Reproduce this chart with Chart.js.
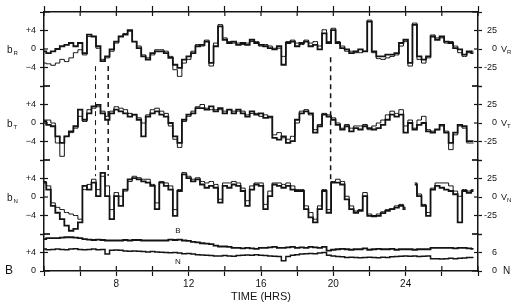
<!DOCTYPE html>
<html><head><meta charset="utf-8">
<script src="https://cdn.jsdelivr.net/npm/chart.js@4"></script>
<style>html,body{margin:0;padding:0;background:#fff}canvas{display:block}</style>
</head><body>
<canvas id="c" width="523" height="307"></canvas>
<script>
// ---- data (time in hours) ----
const times = [4,4.25,4.5,4.75,5,5.25,5.5,5.75,6,6.25,6.5,6.75,7,7.25,7.5,7.75,8,8.25,8.5,8.75,
  9,9.25,9.5,9.75,10,10.25,10.5,10.75,11,11.25,11.5,11.75,12,12.25,12.5,12.75,13,13.25,13.5,13.75,
  14,14.25,14.5,14.75,15,15.25,15.5,15.75,16,16.25,16.5,16.75,17,17.25,17.5,17.75,18,18.25,18.5,18.75,
  19,19.25,19.5,19.75,20,20.25,20.5,20.75,21,21.25,21.5,21.75,22,22.25,22.5,22.75,23,23.25,23.5,23.75,
  24,24.25,24.5,24.75,25,25.25,25.5,25.75,26,26.25,26.5,26.75,27,27.25,27.5,27.75];

// magnetic field components (nT)
const bR = [-0.5,-0.9,-0.5,0,0.6,0.9,1.3,0.6,1.3,-0.9, 3.1,2.7,0.6,-2.6,-1.6,-0.1,1.6,2.7,3.1,4.1,
  1.6,0.2,-1.6,-2.3,-0.9,-0.5,-0.5,-0.9,-1.9,-3.4, -4.1,-2.3,-1.6,-0.9,0.6,0.9,1.6,-3.0,0.6,4.9,
  2.0,1.3,1.6,0.9,1.3,0.9,2.0,1.3,0.9,0.6, 0.2,-0.1,0.6,-3.4,1.3,1.6,0.6,1.3,1.6,0.6,
  0.9,-0.1,3.4,1.3,4.1,1.3,0.2,-0.1,-0.9,-0.5, -0.1,-0.5,5.9,-0.5,-1.6,-1.6,-1.2,-1.2,-0.9,1.3,
  2.0,-3.0,5.2,-1.6,-2.3,-1.6,2.7,2.0,2.7,1.6, 1.3,0.2,-0.1,-1.2,-0.5,-0.9];
const bT = [0.4,-0.4,-0.7,-2.9,-4.3,-2.9,-1.8,-0.7,2.9,0.7, 2.1,3.6,3.9,2.1,0.7,2.1,2.9,2.5,2.1,1.4,
  1.8,0.7,-2.9,1.4,2.1,2.5,1.8,1.4,0,-2.9, -4.3,0.7,1.8,2.1,3.2,3.2,2.9,3.6,2.5,3.2,
  2.1,2.9,2.1,2.9,2.1,1.4,2.5,1.8,2.1,1.1, 1.4,-3.2,-3.6,-2.9,-4.3,-3.9,0.7,2.1,2.5,2.1,
  -2.1,-0.7,1.8,1.4,0.7,-0.4,-1.4,-0.7,-1.8,-1.1, -1.4,-0.7,-1.1,-1.4,-1.1,-0.4,0.7,1.8,1.4,1.8,
  -2.1,0,-1.4,-0.4,0,-1.8,-2.1,-1.4,-0.4,-2.1, -4.3,-2.1,-0.4,-0.7,-3.9,-3.9];
const bN = [3.1,1.6,-1.9,-3.4,-4.8,-6.2,-7.3,-6.9,-5.5,2.4, 1.6,3.1,0.2,5.2,0.2,-4.8,0.2,-1.9,1.6,3.8,
  4.1,3.8,3.4,3.1,2.4,-2.6,3.1,2.4,1.6,-4.1, 1.3,4.9,4.1,3.4,3.8,2.7,2.0,2.4,2.0,-1.2,
  2.4,2.0,2.7,2.4,1.3,-1.9,1.6,2.7,2.4,-2.6, 0.2,2.7,2.4,2.0,2.4,1.6,1.3,1.3,-2.6,-4.4,
  -5.5,-2.6,1.3,-3.4,3.1,3.1,2.7,-0.5,-2.6,-3.4, -3.0,0.2,-4.1,-4.2,-4.1,-3.5,-3.0,-2.6,-2.3,-1.9,
  -2.6,null,2.7,0.2,-1.9,-4.1,1.6,2.4,2.0,1.6, 1.3,0.6,-5.5,1.3,0.9,1.3];
// velocity components (km/s)
const vR = [-19,-20,-22,-19,-14,-17,-12,-5,-1,-8, 17,17,1,-14,-12,-3,8,17,21,24,
  10,4,-8,-12,-8,-1,-1,-3,-10,-28, -37,-19,-14,-3,6,4,12,-23,8,33,
  15,10,8,8,6,8,10,10,4,6, 4,1,1,-10,10,12,8,6,12,8,
  10,4,26,10,28,10,4,-3,-3,-5, -5,-3,39,-5,-13,-14,-12,-10,-8,4,
  10,-23,35,-14,-19,-12,19,15,15,8, 10,4,-5,-10,-5,-3];
const vT = [4,4,0,-27,-45,-18,-13,-7,9,2, 18,20,22,16,9,16,22,20,18,13,
  11,7,0,11,18,20,16,13,-4,-22, -33,2,9,16,22,25,20,18,18,18,
  16,18,16,16,16,11,13,13,9,11, 7,-16,-13,-20,-22,-18,0,16,18,11,
  -9,-2,13,11,7,0,-7,-2,-7,-4, -4,-2,-9,-4,0,4,11,16,13,18,
  -4,4,-7,4,9,-9,-11,-9,-4,-11, -36,-16,-4,-7,-27,-27];
const vN = [21,15,-8,-14,-17,-21,-23,-25,-30,10, 17,24,10,28,15,-17,6,1,8,21,
  28,26,24,24,17,-8,21,19,15,-17, 10,33,28,24,26,21,19,21,17,-3,
  19,19,21,19,12,-5,15,19,19,-10, 8,19,19,17,19,15,10,10,-12,-21,
  -30,-12,10,-17,21,24,21,1,-12,-19, -17,6,-23,-25,-23,-20,-17,-16,-12,-10,
  -14,null,19,4,-10,-21,12,19,19,19, 15,8,1,10,8,10];
// field magnitude B (nT) and density N (cm^-3)
const magB = [6.9,7.1,7.1,7.1,7.2,7.3,7.3,7.2,7.1,6.9, 6.8,6.7,6.8,6.7,6.6,6.6,6.6,6.6,6.7,6.6,
  6.7,6.7,6.6,6.6,6.6,6.6,6.6,6.6,6.8,6.7, 6.8,6.6,6.5,6.3,6.2,6.0,5.9,5.8,5.5,5.3,
  5.3,5.2,5.0,5.0,4.9,5.0,4.9,4.8,5.0,5.0, 5.1,5.2,5.0,5.0,5.1,5.2,5.0,5.1,5.0,5.2,
  5.1,5.0,5.2,4.4,4.6,4.7,4.8,4.7,4.6,4.7, 4.7,4.9,4.6,4.7,4.8,4.7,4.7,4.8,4.6,4.7,
  4.7,4.7,4.6,4.7,4.7,4.7,5.0,5.0,5.0,5.0, 5.0,4.9,5.0,5.0,4.9,4.8];
const densN = [7.1,6.9,7.0,7.1,7.0,6.9,7.1,7.2,7.0,6.9, 7.0,7.1,6.9,7.0,5.5,6.7,6.8,6.7,6.5,6.4,
  6.5,6.4,6.3,6.2,6.3,6.2,6.1,6.0,5.9,6.0, 5.8,5.6,5.7,5.5,5.3,5.2,5.1,5.0,4.9,4.9,
  5.0,4.9,4.8,5.0,5.1,5.2,5.1,5.3,5.1,5.0, 4.9,4.8,4.7,3.3,4.7,5.1,5.3,5.5,5.6,5.7,
  5.6,5.8,6.0,5.1,4.9,4.7,4.6,4.4,4.5,4.4, 4.3,4.4,4.5,4.4,4.3,4.5,4.4,4.6,4.7,4.8,
  4.9,4.8,4.9,4.7,4.8,4.9,4.0,4.0,3.9,4.0, 4.1,4.0,4.1,4.2,4.4,4.4];
// dashed event markers: time, top end (bR units), bottom end (bN units)
const markTimes = [6.85, 7.55, 19.85];
const markFrom = [-3.7, -3.7, -1.8];
const markTo = [4.5, 4.6, 3.0];
const markWidths = [1, 1.5, 1.5];

// ---- styling ----
const FONT = "'Liberation Sans', Arial, Helvetica, sans-serif";
const INK = '#141414';

function pts(vals) { return times.map((t, i) => ({x: t, y: vals[i]})); }
function ds(vals, axis, w) {
  return {data: pts(vals), yAxisID: axis, borderColor: INK, borderWidth: w,
    pointRadius: 0, stepped: 'middle', spanGaps: false, tension: 0};
}

const fmtB = v => v === 0 ? '0' : v === 4 ? '+4' : v === -4 ? '\u22124' : '';
const fmtV = v => v === 0 ? '0' : v === 25 ? '25' : v === -25 ? '-25' : '';

function yScale(pos, stackW, w, min, max, step, cb, width) {
  return {
    type: 'linear', position: pos, stack: pos === 'left' ? 'L' : 'R', stackWeight: stackW,
    weight: w, offset: false, min: min, max: max,
    ticks: {stepSize: step, autoSkip: false, callback: cb, color: INK,
      font: {family: FONT, size: 9}, padding: 4, crossAlign: pos === 'left' ? 'near' : 'far'},
    grid: {drawOnChartArea: false, drawTicks: true, tickLength: 4, color: INK, tickWidth: 1.2},
    border: {display: true, color: INK, width: 1.5},
    afterFit: s => { s.width = width; }
  };
}

const decorations = {
  id: 'decorations',
  afterDatasetsDraw(chart) {
    const ctx = chart.ctx, s = chart.scales;
    ctx.save();
    ctx.strokeStyle = INK;
    markTimes.forEach((t, i) => {
      const x = s.x.getPixelForValue(t);
      ctx.lineWidth = markWidths[i];
      ctx.setLineDash([5, 4]);
      ctx.beginPath();
      ctx.moveTo(x, s.yR.getPixelForValue(markFrom[i]));
      ctx.lineTo(x, s.yN.getPixelForValue(markTo[i]));
      ctx.stroke();
    });
    ctx.restore();
  },
  afterDraw(chart) {
    const ctx = chart.ctx, s = chart.scales, a = chart.chartArea;
    ctx.save();
    ctx.strokeStyle = INK; ctx.fillStyle = INK; ctx.lineWidth = 1.2;
    // inward tick marks
    ['yR','yT','yN','yB','vR','vT','vN','vB'].forEach(id => {
      const sc = s[id], left = sc.position === 'left';
      const x0 = left ? a.left : a.right;
      sc.ticks.forEach(tk => {
        const y = sc.getPixelForValue(tk.value);
        const edge = (tk.value === sc.min || tk.value === sc.max);
        const len = edge ? 6 : 4;
        ctx.beginPath();
        ctx.moveTo(x0, y); ctx.lineTo(left ? x0 + len : x0 - len, y); ctx.stroke();
      });
    });
    ['x','xTop'].forEach(id => {
      const sc = s[id], bottom = id === 'x';
      const y0 = bottom ? a.bottom : a.top;
      sc.ticks.forEach(tk => {
        const x = sc.getPixelForValue(tk.value);
        ctx.beginPath(); ctx.moveTo(x, y0); ctx.lineTo(x, bottom ? y0 - 5 : y0 + 4); ctx.stroke();
      });
    });
    // panel labels
    ctx.textBaseline = 'middle'; ctx.textAlign = 'left';
    [['yR','R'],['yT','T'],['yN','N']].forEach(([id, sub]) => {
      const y = s[id].getPixelForValue(0);
      ctx.font = '10px ' + FONT; ctx.fillText('b', 7, y + 1);
      ctx.font = '6px ' + FONT; ctx.fillText(sub, 13.5, y + 4);
    });
    [['vR','R'],['vT','T'],['vN','N']].forEach(([id, sub]) => {
      const y = s[id].getPixelForValue(0);
      ctx.font = '9px ' + FONT; ctx.fillText('V', 501, y + 1);
      ctx.font = '6px ' + FONT; ctx.fillText(sub, 507, y + 3);
    });
    ctx.font = '12px ' + FONT;
    ctx.fillText('B', 5, s.yB.getPixelForValue(0));
    ctx.font = '10px ' + FONT;
    ctx.fillText('N', 503, s.vB.getPixelForValue(0));
    ctx.font = '8px ' + FONT; ctx.textAlign = 'center';
    ctx.fillText('B', s.x.getPixelForValue(11.4), s.yN.getPixelForValue(-7.4));
    ctx.fillText('N', s.x.getPixelForValue(11.4), s.yB.getPixelForValue(2.0));
    ctx.restore();
  }
};

new Chart(document.getElementById('c'), {
  type: 'line',
  data: {datasets: [
    ds(vR, 'vR', 1), ds(bR, 'yR', 1.8),
    ds(vT, 'vT', 1), ds(bT, 'yT', 1.8),
    ds(vN, 'vN', 1), ds(bN, 'yN', 1.8),
    ds(densN, 'vB', 1.5), ds(magB, 'yB', 1.8)
  ]},
  options: {
    responsive: false, animation: false, devicePixelRatio: 1,
    layout: {padding: {left: 0, right: 26, top: 0, bottom: 0}},
    plugins: {legend: {display: false}, tooltip: {enabled: false}},
    scales: {
      x: {type: 'linear', position: 'bottom', min: 4, max: 28,
        ticks: {stepSize: 2, autoSkip: false, maxRotation: 0, color: INK,
          font: {family: FONT, size: 10}, padding: 2,
          callback: v => (v % 4 === 0 && v >= 8 && v <= 24) ? String(v) : ''},
        grid: {drawOnChartArea: false, tickLength: 5, color: INK, tickWidth: 1.2},
        border: {color: INK, width: 1.5},
        title: {display: true, text: 'TIME (HRS)', color: INK,
          font: {family: FONT, size: 11}, padding: {top: 0, bottom: 3}},
        afterFit: s => { s.height = 36; }},
      xTop: {type: 'linear', position: 'top', min: 4, max: 28,
        ticks: {stepSize: 2, autoSkip: false, callback: () => ''},
        grid: {drawOnChartArea: false, tickLength: 6, color: INK, tickWidth: 1.2},
        border: {color: INK, width: 1.5},
        afterFit: s => { s.height = 12; }},
      yR: yScale('left', 2, 4, -8, 8, 4, fmtB, 44),
      yT: yScale('left', 2, 3, -8, 8, 4, fmtB, 44),
      yN: yScale('left', 2, 2, -8, 8, 4, fmtB, 44),
      yB: yScale('left', 1, 1, 0, 8, 4, fmtB, 44),
      vR: yScale('right', 2, 1, -50, 50, 25, fmtV, 19),
      vT: yScale('right', 2, 2, -50, 50, 25, fmtV, 19),
      vN: yScale('right', 2, 3, -50, 50, 25, fmtV, 19),
      vB: yScale('right', 1, 4, 0, 12, 6, v => v === 0 ? '0' : v === 6 ? '6' : '', 19)
    }
  },
  plugins: [decorations]
});
</script>
</body></html>
